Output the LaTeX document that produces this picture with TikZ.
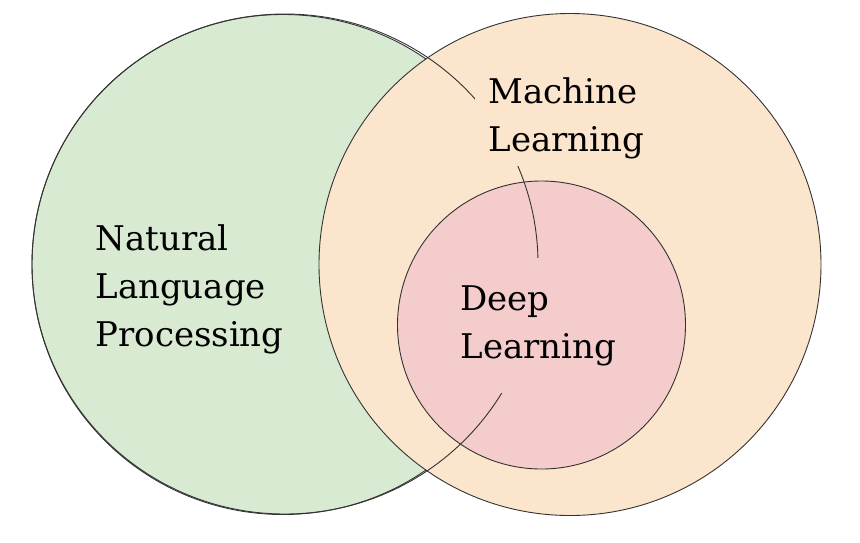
\documentclass[tikz,border=0pt]{standalone}
\usepackage{fontspec}
\setmainfont{DejaVu Serif}
\definecolor{nlpgreen}{HTML}{D9EAD3}
\definecolor{mlorange}{HTML}{FCE5CD}
\definecolor{dlpink}{HTML}{F4CCCC}

\begin{document}
\begin{tikzpicture}[x=1pt, y=-1pt, line width=0.9pt,
  ring/.style={draw=black!80},
  areatext/.style={align=left, font=\fontsize{34}{48}\selectfont, text=black},
  areabox/.style={areatext, anchor=north west, inner xsep=13pt, inner ysep=0pt, text width=160pt}]
  \useasboundingbox (0,0) rectangle (860,542);
  \draw[ring, fill=nlpgreen] (283,264.5) ellipse[x radius=251, y radius=250];
  \draw[ring, fill=mlorange] (570,264.5) circle[radius=251];
  \draw[ring, fill=dlpink] (541.5,325) circle[radius=144];
  \draw[ring] (285,264) ellipse[x radius=253, y radius=250];

  \node[areatext, anchor=north west, inner sep=0pt] (nlp) at (95,224) {Natural\\Language\\Processing};
  \node[areabox, fill=mlorange, minimum height=96pt] (ml) at (475,70) {Machine\\Learning};
  \node[areabox, fill=dlpink, minimum height=135pt] (dl) at (447,258) {Deep\\Learning};
\end{tikzpicture}
\end{document}
